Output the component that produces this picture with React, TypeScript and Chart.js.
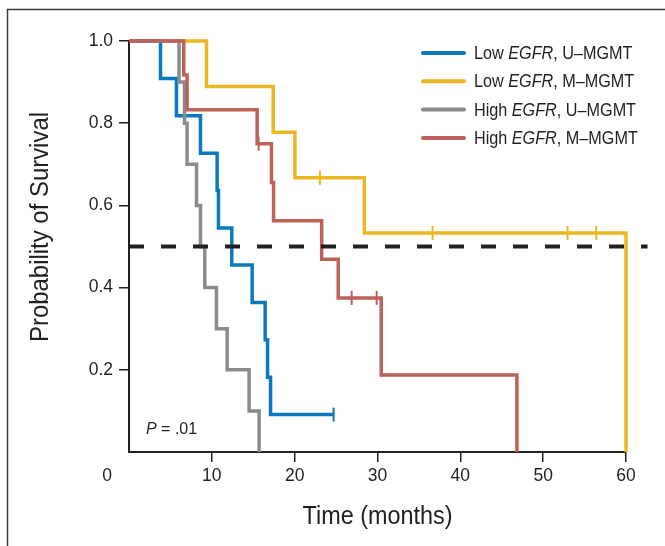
import { useEffect, useRef } from "react";
import { Chart, registerables } from "chart.js";

Chart.register(...registerables);

// ---------- data ----------
const seriesLabels = [
  "Low EGFR, U–MGMT",
  "Low EGFR, M–MGMT",
  "High EGFR, U–MGMT",
  "High EGFR, M–MGMT",
];
const seriesColors = ["#0b79c0", "#ebb823", "#8b8b8d", "#bd625b"];

// Low EGFR, U-MGMT
const lowUTimes = [0, 3.8, 5.73, 8.63, 10.64, 10.8, 12.41, 14.87, 16.44, 16.73, 17.09, 24.7];
const lowUSurv = [1, 0.909, 0.818, 0.727, 0.636, 0.545, 0.455, 0.364, 0.273, 0.182, 0.091, 0.091];
const lowUCensor = [24.7];

// Low EGFR, M-MGMT
const lowMTimes = [0, 9.36, 17.41, 20.03, 28.41, 60];
const lowMSurv = [1, 0.889, 0.778, 0.667, 0.533, 0];
const lowMCensor = [23.05, 36.65, 52.94, 56.41];

// High EGFR, U-MGMT
const highUTimes = [0, 6.04, 6.7, 7.01, 8.15, 8.63, 9.15, 10.56, 11.85, 14.5, 15.71];
const highUSurv = [1, 0.9, 0.8, 0.7, 0.6, 0.5, 0.4, 0.3, 0.2, 0.1, 0];
const highUCensor: number[] = [];

// High EGFR, M-MGMT
const highMTimes = [0, 6.61, 7.01, 15.47, 17.2, 17.45, 23.26, 25.26, 30.45, 46.83];
const highMSurv = [1, 0.917, 0.833, 0.75, 0.656, 0.5625, 0.469, 0.375, 0.1875, 0];
const highMCensor = [15.65, 26.88, 29.9];

const xTicks = [0, 10, 20, 30, 40, 50, 60];
const yTicks = [0, 0.2, 0.4, 0.6, 0.8, 1.0];
const medianLevel = 0.5;
const refLineEnd = 62.6;
const pValueText = "= .01";
const xTitle = "Time (months)";
const yTitle = "Probability of Survival";

const seriesTimes = [lowUTimes, lowMTimes, highUTimes, highMTimes];
const seriesSurv = [lowUSurv, lowMSurv, highUSurv, highMSurv];
const seriesCensor = [lowUCensor, lowMCensor, highUCensor, highMCensor];
const drawOrder = [2, 3, 1, 0];

const ink = "#231f20";
const family = "'Liberation Sans', Arial, Helvetica, sans-serif";

function survAt(times: number[], surv: number[], t: number) {
  let v = surv[0];
  for (let i = 0; i < times.length; i++) if (times[i] <= t) v = surv[i];
  return v;
}

function drawScaledText(ctx: CanvasRenderingContext2D, text: string, x: number, y: number, sx: number) {
  ctx.save();
  ctx.translate(x, y);
  ctx.scale(sx, 1);
  ctx.fillText(text, 0, 0);
  ctx.restore();
}

const overlayPlugin = {
  id: "overlay",
  afterDatasetsDraw(chart: any) {
    const { ctx } = chart;
    const xs = chart.scales.x;
    const ys = chart.scales.y;
    const yy = ys.getPixelForValue(medianLevel);
    ctx.save();
    ctx.strokeStyle = ink;
    ctx.lineWidth = 4;
    ctx.setLineDash([15, 17]);
    ctx.lineCap = "butt";
    ctx.beginPath();
    ctx.moveTo(xs.getPixelForValue(0), yy);
    ctx.lineTo(xs.getPixelForValue(refLineEnd), yy);
    ctx.stroke();
    ctx.restore();
  },
  afterDraw(chart: any) {
    const { ctx } = chart;
    const xs = chart.scales.x;
    const ys = chart.scales.y;
    ctx.save();
    // frame
    ctx.strokeStyle = "#3a3a3a";
    ctx.lineWidth = 1.5;
    ctx.beginPath();
    ctx.moveTo(7.5, chart.height);
    ctx.lineTo(7.5, 9.5);
    ctx.lineTo(chart.width, 9.5);
    ctx.stroke();

    ctx.fillStyle = ink;
    // origin label
    ctx.font = `17.5px ${family}`;
    ctx.textAlign = "center";
    ctx.textBaseline = "middle";
    ctx.fillText(String(xTicks[0]), xs.left - 22, xs.top + 10 + 4 + 10.5);

    // axis titles
    ctx.font = `26px ${family}`;
    drawScaledText(ctx, xTitle, (xs.left + xs.right) / 2, 517, 0.9);
    ctx.save();
    ctx.translate(41, 227);
    ctx.rotate(-Math.PI / 2);
    ctx.scale(0.92, 1);
    ctx.fillText(yTitle, 0, 0);
    ctx.restore();

    // p value
    ctx.textAlign = "left";
    ctx.font = `italic 16px ${family}`;
    ctx.fillText("P", 146, 430);
    const pw = ctx.measureText("P").width;
    ctx.font = `16px ${family}`;
    ctx.fillText(" " + pValueText, 146 + pw, 430);

    // legend
    const sx = 0.9;
    for (let i = 0; i < seriesLabels.length; i++) {
      const y = 53 + i * 28.3;
      ctx.strokeStyle = seriesColors[i];
      ctx.lineWidth = 4;
      ctx.lineCap = "round";
      ctx.beginPath();
      ctx.moveTo(423, y);
      ctx.lineTo(464, y);
      ctx.stroke();
      const parts = seriesLabels[i].split("EGFR");
      const segs = [
        { t: parts[0], it: false },
        { t: "EGFR", it: true },
        { t: parts[1], it: false },
      ];
      let x = 474;
      ctx.fillStyle = ink;
      ctx.textAlign = "left";
      ctx.textBaseline = "middle";
      for (const s of segs) {
        ctx.font = `${s.it ? "italic " : ""}18px ${family}`;
        drawScaledText(ctx, s.t, x, y + 1, sx);
        x += ctx.measureText(s.t).width * sx;
      }
    }
    ctx.restore();
  },
};

export default function App() {
  const ref = useRef<HTMLCanvasElement | null>(null);

  useEffect(() => {
    if (!ref.current) return;
    const curveSets: any[] = seriesLabels.map((label, i) => ({
      type: "line",
      label,
      data: seriesTimes[i].map((t, j) => ({ x: t, y: seriesSurv[i][j] })),
      borderColor: seriesColors[i],
      backgroundColor: seriesColors[i],
      borderWidth: 3.5,
      stepped: "before",
      pointRadius: 0,
      pointHoverRadius: 0,
      fill: false,
      clip: false,
      order: drawOrder[i],
    }));
    const censorSets: any[] = seriesLabels
      .map((label, i) => ({
        type: "scatter",
        label: label + " censored",
        data: seriesCensor[i].map((t) => ({ x: t, y: survAt(seriesTimes[i], seriesSurv[i], t) })),
        showLine: false,
        pointStyle: "line",
        pointRadius: 7,
        pointRotation: 90,
        rotation: 90,
        borderColor: seriesColors[i],
        pointBorderColor: seriesColors[i],
        backgroundColor: seriesColors[i],
        borderWidth: 2,
        pointBorderWidth: 2,
        clip: false,
        order: -1,
      }))
      .filter((d) => d.data.length > 0);

    const tickColor = (c: any) =>
      c.tick && Math.abs(c.tick.value) < 1e-9 ? "rgba(0,0,0,0)" : ink;

    const chart = new Chart(ref.current, {
      type: "line",
      data: { datasets: [...curveSets, ...censorSets] },
      options: {
        responsive: false,
        animation: false,
        events: [],
        layout: { padding: { top: 41, right: 39, left: 0, bottom: 0 } },
        plugins: { legend: { display: false }, tooltip: { enabled: false } },
        scales: {
          x: {
            type: "linear",
            min: xTicks[0],
            max: xTicks[xTicks.length - 1],
            afterFit: (s: any) => {
              s.height = 94;
            },
            afterBuildTicks: (s: any) => {
              s.ticks = xTicks.map((v) => ({ value: v }));
            },
            ticks: {
              callback: (v: any) => (Number(v) === 0 ? "" : String(v)),
              font: { size: 17.5, family },
              color: ink,
              padding: 4,
              maxRotation: 0,
            },
            grid: {
              display: true,
              drawOnChartArea: false,
              drawTicks: true,
              tickLength: 10,
              color: tickColor,
              lineWidth: 1.5,
            },
            border: { display: true, color: ink, width: 2 },
          },
          y: {
            type: "linear",
            min: yTicks[0],
            max: yTicks[yTicks.length - 1],
            afterFit: (s: any) => {
              s.width = 129;
            },
            afterBuildTicks: (s: any) => {
              s.ticks = yTicks.map((v) => ({ value: v }));
            },
            ticks: {
              callback: (v: any) => (Math.abs(Number(v)) < 1e-9 ? "" : Number(v).toFixed(1)),
              font: { size: 17.5, family },
              color: ink,
              padding: 6,
            },
            grid: {
              display: true,
              drawOnChartArea: false,
              drawTicks: true,
              tickLength: 10,
              color: tickColor,
              lineWidth: 1.5,
            },
            border: { display: true, color: ink, width: 2 },
          },
        },
      } as any,
      plugins: [overlayPlugin as any],
    });
    return () => chart.destroy();
  }, []);

  return (
    <div style={{ position: "absolute", left: 0, top: 0, width: 665, height: 546, background: "#fff" }}>
      <canvas ref={ref} width={665} height={546} style={{ display: "block" }} />
    </div>
  );
}
